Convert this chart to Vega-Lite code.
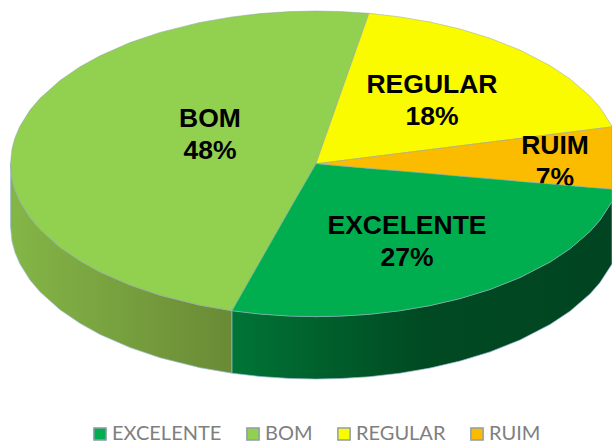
{"$schema":"https://vega.github.io/schema/vega-lite/v6.json","width":612,"height":443,"padding":0,"autosize":{"type":"none"},"background":"white","view":{"stroke":null},
"datasets":{
"wall":[
{"slice":"BOM","x":10.5,"y":163.8,"y2":226.3},{"slice":"BOM","x":12,"y":178.9,"y2":241.4},{"slice":"BOM","x":15,"y":189.9,"y2":252.4},{"slice":"BOM","x":20,"y":201.6,"y2":264.1},{"slice":"BOM","x":30,"y":217.5,"y2":280},{"slice":"BOM","x":40,"y":229.3,"y2":291.8},{"slice":"BOM","x":60,"y":247.2,"y2":309.7},{"slice":"BOM","x":80,"y":260.8,"y2":323.3},{"slice":"BOM","x":100,"y":271.9,"y2":334.4},{"slice":"BOM","x":130,"y":285,"y2":347.5},{"slice":"BOM","x":160,"y":295.2,"y2":357.7},{"slice":"BOM","x":200,"y":305.2,"y2":367.7},{"slice":"BOM","x":232,"y":310.7,"y2":373.2},
{"slice":"EXCELENTE","x":232,"y":310.7,"y2":373.2},{"slice":"EXCELENTE","x":260,"y":314,"y2":376.5},{"slice":"EXCELENTE","x":290,"y":316,"y2":378.5},{"slice":"EXCELENTE","x":316,"y":316.6,"y2":379.1},{"slice":"EXCELENTE","x":340,"y":316.1,"y2":378.6},{"slice":"EXCELENTE","x":369,"y":314.3,"y2":376.8},{"slice":"EXCELENTE","x":400,"y":310.7,"y2":373.2},{"slice":"EXCELENTE","x":430,"y":305.6,"y2":368.1},{"slice":"EXCELENTE","x":460,"y":298.6,"y2":361.1},{"slice":"EXCELENTE","x":490,"y":289.4,"y2":351.9},{"slice":"EXCELENTE","x":520,"y":277.5,"y2":340},{"slice":"EXCELENTE","x":550,"y":262,"y2":324.5},{"slice":"EXCELENTE","x":570,"y":248.7,"y2":311.2},{"slice":"EXCELENTE","x":590,"y":231.4,"y2":293.9},{"slice":"EXCELENTE","x":600,"y":220.1,"y2":282.6},{"slice":"EXCELENTE","x":612,"y":201.6,"y2":264.1}],
"top":[
{"slice":"BOM","x":10.5,"y":163.8,"y2":163.8},{"slice":"BOM","x":12,"y":148.7,"y2":178.9},{"slice":"BOM","x":15,"y":137.7,"y2":189.9},{"slice":"BOM","x":20,"y":126,"y2":201.6},{"slice":"BOM","x":30,"y":110.1,"y2":217.5},{"slice":"BOM","x":40,"y":98.3,"y2":229.3},{"slice":"BOM","x":60,"y":80.4,"y2":247.2},{"slice":"BOM","x":80,"y":66.8,"y2":260.8},{"slice":"BOM","x":100,"y":55.7,"y2":271.9},{"slice":"BOM","x":130,"y":42.6,"y2":285},{"slice":"BOM","x":160,"y":32.4,"y2":295.2},{"slice":"BOM","x":200,"y":22.4,"y2":305.2},{"slice":"BOM","x":232,"y":16.9,"y2":310.7},{"slice":"BOM","x":260,"y":13.6,"y2":261.5},{"slice":"BOM","x":290,"y":11.6,"y2":208.8},{"slice":"BOM","x":316,"y":11,"y2":163.8},{"slice":"BOM","x":340,"y":11.5,"y2":95.6},{"slice":"BOM","x":369,"y":13.3,"y2":13.3},
{"slice":"REGULAR","x":316,"y":163.8,"y2":163.8},{"slice":"REGULAR","x":340,"y":95.6,"y2":160.8},{"slice":"REGULAR","x":369,"y":13.3,"y2":157.2},{"slice":"REGULAR","x":400,"y":16.9,"y2":153.3},{"slice":"REGULAR","x":430,"y":22,"y2":149.6},{"slice":"REGULAR","x":460,"y":29,"y2":145.8},{"slice":"REGULAR","x":490,"y":38.2,"y2":142.1},{"slice":"REGULAR","x":520,"y":50.1,"y2":138.4},{"slice":"REGULAR","x":550,"y":65.6,"y2":134.6},{"slice":"REGULAR","x":570,"y":78.9,"y2":132.1},{"slice":"REGULAR","x":590,"y":96.2,"y2":129.6},{"slice":"REGULAR","x":600,"y":107.5,"y2":128.4},{"slice":"REGULAR","x":612,"y":126,"y2":126.9},
{"slice":"RUIM","x":316,"y":163.8,"y2":163.8},{"slice":"RUIM","x":612,"y":126.9,"y2":189.3},
{"slice":"EXCELENTE","x":232,"y":310.7,"y2":310.7},{"slice":"EXCELENTE","x":260,"y":261.5,"y2":314},{"slice":"EXCELENTE","x":290,"y":208.8,"y2":316},{"slice":"EXCELENTE","x":316,"y":163.8,"y2":316.6},{"slice":"EXCELENTE","x":340,"y":165.9,"y2":316.1},{"slice":"EXCELENTE","x":369,"y":168.4,"y2":314.3},{"slice":"EXCELENTE","x":400,"y":171,"y2":310.7},{"slice":"EXCELENTE","x":430,"y":173.6,"y2":305.6},{"slice":"EXCELENTE","x":460,"y":176.2,"y2":298.6},{"slice":"EXCELENTE","x":490,"y":178.8,"y2":289.4},{"slice":"EXCELENTE","x":520,"y":181.4,"y2":277.5},{"slice":"EXCELENTE","x":550,"y":184,"y2":262},{"slice":"EXCELENTE","x":570,"y":185.7,"y2":248.7},{"slice":"EXCELENTE","x":590,"y":187.4,"y2":231.4},{"slice":"EXCELENTE","x":600,"y":188.3,"y2":220.1},{"slice":"EXCELENTE","x":612,"y":189.3,"y2":201.6}],
"labels":[
{"slice":"BOM","pct":"BOM\n48%","x":210,"y":119},
{"slice":"REGULAR","pct":"REGULAR\n18%","x":432,"y":85},
{"slice":"RUIM","pct":"RUIM\n7%","x":555,"y":146},
{"slice":"EXCELENTE","pct":"EXCELENTE\n27%","x":407,"y":226}]},
"encoding":{
"x":{"field":"x","type":"quantitative","scale":{"domain":[0,612],"nice":false,"zero":false},"axis":null},
"y":{"field":"y","type":"quantitative","scale":{"domain":[443,0],"nice":false,"zero":false},"axis":null,"stack":null}},
"layer":[
{"data":{"name":"wall"},"transform":[{"filter":"datum.slice==='BOM'"}],"mark":{"type":"area","stroke":"#9dbbd6","strokeWidth":0.7,"color":{"gradient":"linear","x1":0,"x2":1,"y1":0,"y2":0,"stops":[{"offset":0,"color":"#84b647"},{"offset":1,"color":"#6a8a35"}]}},"encoding":{"y2":{"field":"y2"}}},
{"data":{"name":"wall"},"transform":[{"filter":"datum.slice==='EXCELENTE'"}],"mark":{"type":"area","stroke":"#9dbbd6","strokeWidth":0.7,"color":{"gradient":"linear","x1":0,"x2":1,"y1":0,"y2":0,"stops":[{"offset":0,"color":"#007436"},{"offset":0.5,"color":"#004a22"},{"offset":1,"color":"#004421"}]}},"encoding":{"y2":{"field":"y2"}}},
{"data":{"name":"top"},"transform":[{"filter":"datum.slice!=='EXCELENTE'"}],"mark":{"type":"area","stroke":"#8f9fa8","strokeWidth":0.6,"strokeOpacity":0.8},"encoding":{"y2":{"field":"y2"},"color":{"field":"slice","type":"nominal","scale":{"domain":["EXCELENTE","BOM","REGULAR","RUIM"],"range":["#00ae4f","#92d050","#fbfb00","#fbbc00"]},
"legend":{"orient":"none","legendX":90,"legendY":424,"direction":"horizontal","title":null,"symbolType":"square","symbolSize":150,"symbolStrokeWidth":1.5,"labelFont":"Lato","labelFontSize":20,"labelColor":"#7f7f7f","labelOffset":2,"columnPadding":21,"padding":0,
"encode":{"symbols":{"update":{"stroke":{"signal":"datum.value==='REGULAR'?'#fbfb00':datum.value==='RUIM'?'#3f77ac':'#a3b9dc'"}}}}}}}},
{"data":{"name":"labels"},"transform":[{"filter":"datum.slice==='RUIM'"}],"mark":{"type":"text","font":"Liberation Sans","fontWeight":"bold","fontSize":26.5,"lineHeight":32,"lineBreak":"\n","baseline":"middle","color":"black"},"encoding":{"text":{"field":"pct"}}},
{"data":{"name":"top"},"transform":[{"filter":"datum.slice==='EXCELENTE'"}],"mark":{"type":"area","stroke":"#8fb0b0","strokeWidth":0.6,"strokeOpacity":0.8},"encoding":{"y2":{"field":"y2"},"color":{"field":"slice","type":"nominal"}}},
{"data":{"name":"labels"},"transform":[{"filter":"datum.slice!=='RUIM'"}],"mark":{"type":"text","font":"Liberation Sans","fontWeight":"bold","fontSize":26.5,"lineHeight":32,"lineBreak":"\n","baseline":"middle","color":"black"},"encoding":{"text":{"field":"pct"}}}
]}
